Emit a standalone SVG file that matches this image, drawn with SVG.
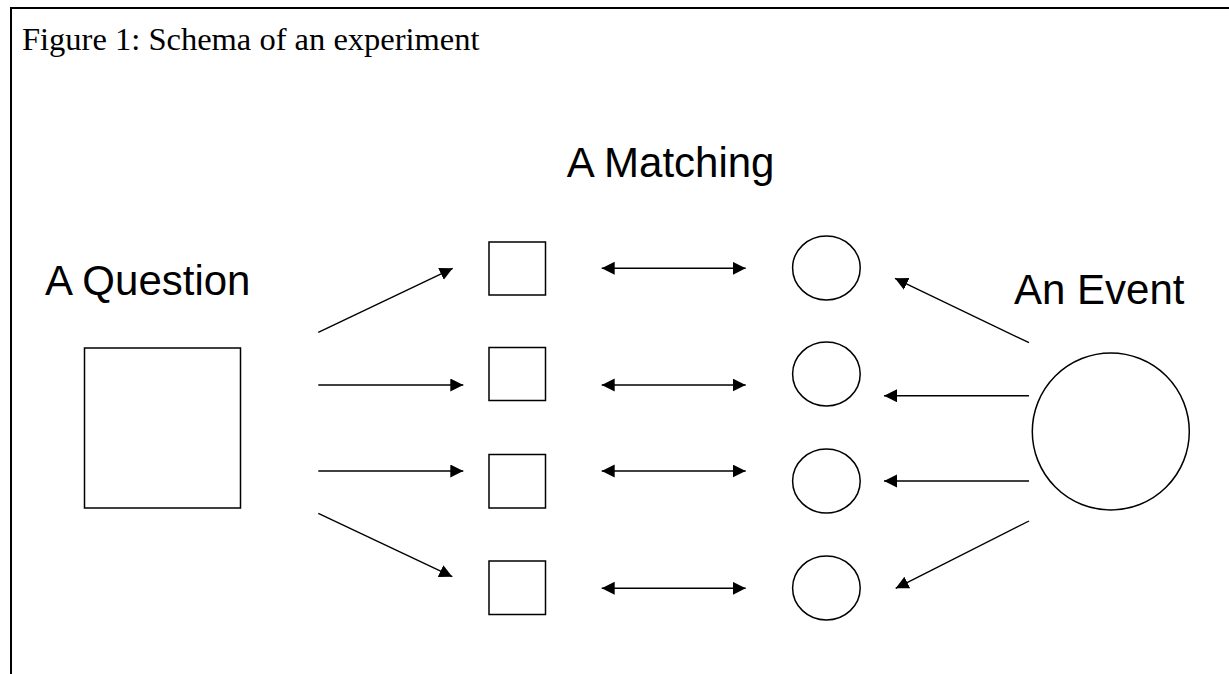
<svg xmlns="http://www.w3.org/2000/svg" width="1229" height="674" viewBox="0 0 1229 674">
  <style>
    .frame { stroke: #000; stroke-width: 2; fill: none; }
    .shape { stroke: #000; stroke-width: 1.5; fill: #fff; }
    .conn { stroke: #000; stroke-width: 1.4; fill: none; }
    .label { font-family: "Liberation Sans", Arial, sans-serif; font-size: 42px; fill: #000; }
    .title { font-family: "Liberation Serif", "Times New Roman", serif; font-size: 32.5px; fill: #000; }
  </style>
  <defs>
    <marker id="arrow" markerUnits="userSpaceOnUse" markerWidth="14" markerHeight="14" refX="13" refY="6.5" orient="auto-start-reverse" viewBox="0 0 14 14">
      <path d="M0,0 L13,6.5 L0,13 z" fill="#000"/>
    </marker>
  </defs>
  <rect width="1229" height="674" fill="#fff"/>
  <g id="frame">
    <line class="frame" x1="10" y1="8" x2="1229" y2="8"/>
    <line class="frame" x1="11" y1="8" x2="11" y2="674"/>
  </g>
  <text id="title" class="title" x="22" y="49.5">Figure 1: Schema of an experiment</text>
  <g id="question">
    <text class="label" x="45" y="295">A Question</text>
    <rect class="shape" x="84.5" y="348" width="156" height="160"/>
  </g>
  <g id="matching">
    <text class="label" x="566.7" y="176.7">A Matching</text>
  </g>
  <g id="event">
    <text class="label" x="1014" y="304.3">An Event</text>
    <ellipse class="shape" cx="1110.8" cy="431.5" rx="78.5" ry="78.5"/>
  </g>
  <g id="square1"><rect class="shape" x="489" y="242" width="56.5" height="53"/></g>
  <g id="square2"><rect class="shape" x="489" y="347.5" width="56.5" height="53"/></g>
  <g id="square3"><rect class="shape" x="489" y="454.5" width="56.5" height="53.5"/></g>
  <g id="square4"><rect class="shape" x="489" y="561" width="56.5" height="53.5"/></g>
  <g id="circle1"><ellipse class="shape" cx="826.4" cy="268" rx="33.8" ry="32"/></g>
  <g id="circle2"><ellipse class="shape" cx="826.4" cy="374" rx="33.8" ry="32"/></g>
  <g id="circle3"><ellipse class="shape" cx="826.4" cy="481" rx="33.8" ry="32"/></g>
  <g id="circle4"><ellipse class="shape" cx="826.4" cy="588" rx="33.8" ry="32"/></g>
  <g id="connectors">
    <line class="conn" x1="318.3" y1="332.3" x2="452.7" y2="268.3" marker-end="url(#arrow)"/>
    <line class="conn" x1="318.3" y1="385" x2="463.3" y2="385" marker-end="url(#arrow)"/>
    <line class="conn" x1="318.3" y1="471" x2="463.3" y2="471" marker-end="url(#arrow)"/>
    <line class="conn" x1="318.3" y1="513.3" x2="452.3" y2="576.7" marker-end="url(#arrow)"/>
    <line class="conn" x1="601.7" y1="268.3" x2="745.7" y2="268.3" marker-start="url(#arrow)" marker-end="url(#arrow)"/>
    <line class="conn" x1="601.7" y1="385" x2="745.7" y2="385" marker-start="url(#arrow)" marker-end="url(#arrow)"/>
    <line class="conn" x1="601.7" y1="471" x2="745.7" y2="471" marker-start="url(#arrow)" marker-end="url(#arrow)"/>
    <line class="conn" x1="601.7" y1="588.3" x2="745.7" y2="588.3" marker-start="url(#arrow)" marker-end="url(#arrow)"/>
    <line class="conn" x1="1029" y1="342.7" x2="895" y2="278.3" marker-end="url(#arrow)"/>
    <line class="conn" x1="1029" y1="395.7" x2="884" y2="395.7" marker-end="url(#arrow)"/>
    <line class="conn" x1="1029" y1="481" x2="884" y2="481" marker-end="url(#arrow)"/>
    <line class="conn" x1="1029" y1="521" x2="895.7" y2="588.3" marker-end="url(#arrow)"/>
  </g>
</svg>
